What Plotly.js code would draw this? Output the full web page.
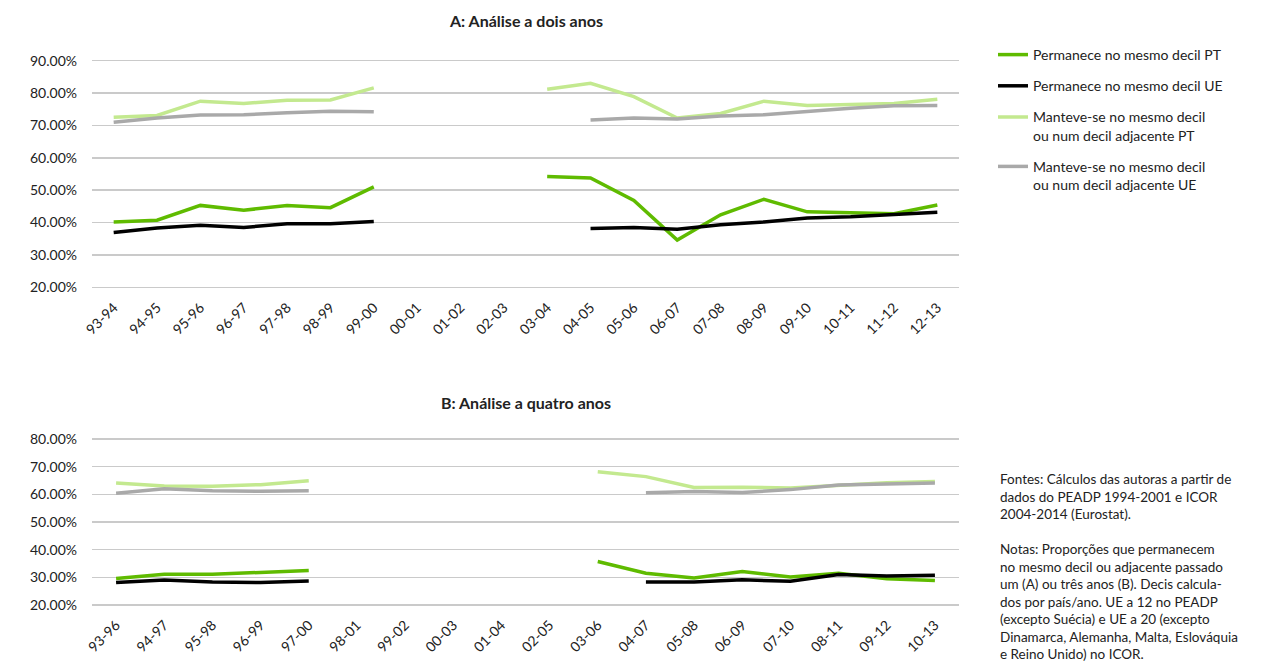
<!DOCTYPE html>
<html>
<head>
<meta charset="utf-8">
<script src="https://cdn.plot.ly/plotly-3.0.1.min.js"></script>
<style>html,body{margin:0;padding:0;background:#fff}#chart{width:1276px;height:664px}</style>
</head>
<body>
<div id="chart"></div>
<script>
// Chart A: two-year analysis
const catsA = ['93-94','94-95','95-96','96-97','97-98','98-99','99-00','00-01','01-02','02-03','03-04','04-05','05-06','06-07','07-08','08-09','09-10','10-11','11-12','12-13'];
const ptSameA = [40.2,40.7,45.3,43.8,45.3,44.6,51.0,null,null,null,54.2,53.8,46.8,34.6,42.4,47.2,43.3,42.9,42.7,45.4];
const ueSameA = [36.9,38.3,39.2,38.5,39.6,39.6,40.3,null,null,null,null,38.2,38.5,37.9,39.3,40.2,41.4,41.8,42.6,43.2];
const ptAdjA  = [72.5,73.1,77.5,76.8,77.8,77.9,81.6,null,null,null,81.2,83.0,78.9,72.3,73.7,77.5,76.2,76.6,76.8,78.1];
const ueAdjA  = [71.0,72.3,73.2,73.3,73.9,74.4,74.2,null,null,null,null,71.7,72.3,72.0,72.9,73.3,74.4,75.3,76.1,76.2];

// Chart B: four-year analysis
const catsB = ['93-96','94-97','95-98','96-99','97-00','98-01','99-02','00-03','01-04','02-05','03-06','04-07','05-08','06-09','07-10','08-11','09-12','10-13'];
const ptSameB = [29.6,31.1,31.1,31.9,32.5,null,null,null,null,null,35.7,31.5,29.8,32.1,30.1,31.5,29.5,28.9];
const ueSameB = [28.1,29.0,28.3,28.1,28.7,null,null,null,null,null,null,28.3,28.3,29.1,28.6,31.0,30.5,30.8];
const ptAdjB  = [64.1,63.0,62.9,63.5,64.9,null,null,null,null,null,68.2,66.4,62.5,62.6,62.3,63.4,64.2,64.6];
const ueAdjB  = [60.4,62.0,61.3,61.1,61.3,null,null,null,null,null,null,60.6,61.0,60.7,61.7,63.4,63.7,64.1];

const seriesNames = ['Permanece no mesmo decil PT','Permanece no mesmo decil UE','Manteve-se no mesmo decil<br>ou num decil adjacente PT','Manteve-se no mesmo decil<br>ou num decil adjacente UE'];
const colors = ['#5fbb00','#000000','#c3e98f','#a9a9a9'];

const FONT = 'Lato, "Open Sans", sans-serif';
const dataA = [ptSameA, ueSameA, ptAdjA, ueAdjA];
const dataB = [ptSameB, ueSameB, ptAdjB, ueAdjB];
const traces = [];
dataA.forEach((ys, i) => traces.push({
  type:'scatter', mode:'lines', x:catsA, y:ys, name:seriesNames[i], legendgroup:'g'+i,
  line:{color:colors[i], width:3.5}, connectgaps:false, xaxis:'x', yaxis:'y', hoverinfo:'skip'
}));
dataB.forEach((ys, i) => traces.push({
  type:'scatter', mode:'lines', x:catsB, y:ys, name:seriesNames[i], legendgroup:'g'+i, showlegend:false,
  line:{color:colors[i], width:3.5}, connectgaps:false, xaxis:'x2', yaxis:'y2', hoverinfo:'skip'
}));

const H = 664, L = 92, R = 959, W = R - L;
const py = p => (H - p) / H;
const px = p => (p - L) / W;

const yCommon = {
  dtick:10, tickformat:'.2f', ticksuffix:'%', showgrid:true, gridcolor:'#cacaca', gridwidth:1.5,
  zeroline:false, showline:false, ticks:'', ticklabelstandoff:14, automargin:false,
  tickfont:{family:FONT, size:14, color:'#222'}
};
const xCommon = {
  type:'category', showgrid:false, zeroline:false, showline:false, ticks:'', tickangle:-45,
  automargin:false, ticklabelstandoff:7, tickfont:{family:FONT, size:14, color:'#222'}
};

const layout = {
  width:1276, height:664, margin:{l:L, r:1276-R, t:0, b:0},
  paper_bgcolor:'#fff', plot_bgcolor:'#fff', font:{family:FONT, color:'#222'},
  xaxis:Object.assign({}, xCommon, {domain:[0,1], anchor:'y', range:[-0.5, catsA.length-0.5]}),
  yaxis:Object.assign({}, yCommon, {domain:[py(288.9), py(59.1)], anchor:'x', range:[19.5, 90.5]}),
  xaxis2:Object.assign({}, xCommon, {domain:[0,1], anchor:'y2', range:[-0.5, catsB.length-0.5]}),
  yaxis2:Object.assign({}, yCommon, {domain:[py(606.4), py(437.6)], anchor:'x2', range:[19.5, 80.5]}),
  showlegend:true,
  legend:{x:px(993), y:py(39), xanchor:'left', yanchor:'top', bgcolor:'rgba(0,0,0,0)', borderwidth:0,
    font:{family:FONT, size:14, color:'#222'}, tracegroupgap:10, valign:'top', itemwidth:30},
  annotations:[
    {text:'<b>A: Análise a dois anos</b>', xref:'paper', yref:'paper', x:0.5, y:py(21), xanchor:'center', yanchor:'middle', showarrow:false, font:{family:FONT, size:16, color:'#222'}},
    {text:'<b>B: Análise a quatro anos</b>', xref:'paper', yref:'paper', x:0.5, y:py(402), xanchor:'center', yanchor:'middle', showarrow:false, font:{family:FONT, size:16, color:'#222'}},
    {text:'Fontes: Cálculos das autoras a partir de<br>dados do PEADP 1994-2001 e ICOR<br>2004-2014 (Eurostat).', xref:'paper', yref:'paper', x:px(998), y:py(469), xanchor:'left', yanchor:'top', align:'left', showarrow:false, font:{family:FONT, size:13.5, color:'#222'}},
    {text:'Notas: Proporções que permanecem<br>no mesmo decil ou adjacente passado<br>um (A) ou três anos (B). Decis calcula-<br>dos por país/ano. UE a 12 no PEADP<br>(excepto Suécia) e UE a 20 (excepto<br>Dinamarca, Alemanha, Malta, Eslováquia<br>e Reino Unido) no ICOR.', xref:'paper', yref:'paper', x:px(998), y:py(539), xanchor:'left', yanchor:'top', align:'left', showarrow:false, font:{family:FONT, size:13.5, color:'#222'}}
  ]
};

Plotly.newPlot('chart', traces, layout, {staticPlot:true, displayModeBar:false});
</script>
</body>
</html>
